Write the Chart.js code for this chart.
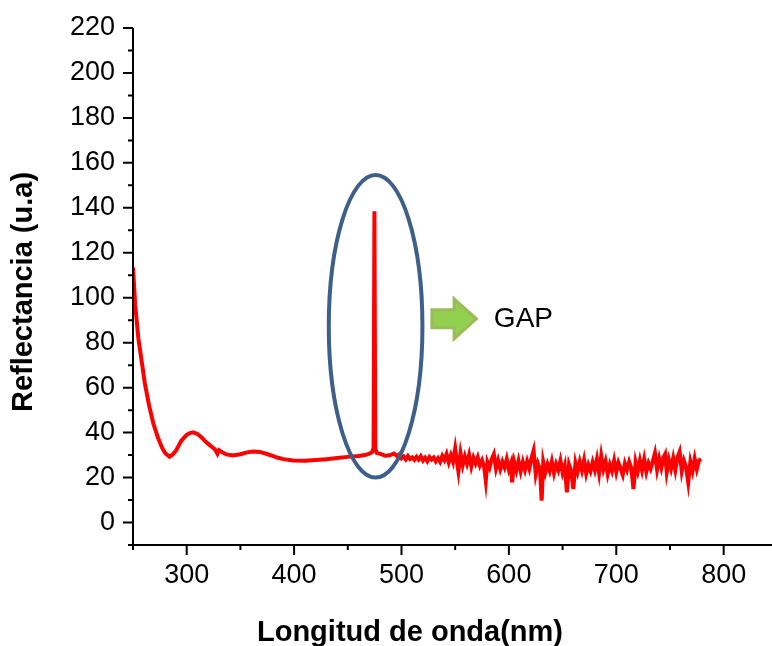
<!DOCTYPE html>
<html>
<head>
<meta charset="utf-8">
<script src="https://cdn.jsdelivr.net/npm/chart.js@4.4.1/dist/chart.umd.min.js"></script>
<style>
  body { margin: 0; background: #fff; }
  #wrap { width: 772px; height: 646px; }
</style>
</head>
<body>
<div id="wrap"><canvas id="chart_reflect"></canvas></div>
<script>
// longitud de onda (nm) y reflectancia (u.a)
const wavelength = [
  250, 252, 255, 258, 261, 265, 269, 273, 277, 280, 284, 287, 290, 295, 300, 303, 306, 310,
  314, 318, 322, 326, 328.6, 330, 333, 337, 343, 350, 356, 362, 368, 374, 380, 385, 390, 399,
  410, 420, 430, 440, 450, 460, 466, 470, 472.5, 474, 474.8, 475.6, 477, 481, 485, 489, 493,
  496, 498, 500, 502, 504, 506, 508, 510, 512, 514, 516, 518, 520, 522, 524, 526, 528, 530,
  532, 534, 536, 538, 540, 542, 544, 546, 548, 550, 552, 553, 555, 557, 559, 561, 563, 565,
  567, 569, 571, 573, 575, 577, 578.5, 580, 582, 584, 586, 588, 590, 592, 594, 596, 598, 600,
  602, 603, 605, 607, 609, 611, 613, 615, 617, 619, 621, 623, 625, 627, 629, 630.5, 632, 634,
  636, 638, 640, 642, 644, 646, 648, 650, 652, 654, 656, 658, 660, 662, 664, 666, 668, 670,
  672, 674, 676, 678, 680, 682, 684, 686, 688, 690, 692, 694, 696, 698, 700, 702, 704, 706,
  708, 710, 712, 714, 716, 718, 720, 722, 724, 726, 728, 730, 732, 734, 736, 738, 740, 742,
  744, 745.5, 747, 749, 751, 753, 755, 757, 759, 761, 763, 765, 767, 769, 771, 773, 775, 777, 779
];
const reflectance = [
  113.5, 97, 82, 72, 62, 52, 44, 38, 33.3, 30.8, 29.3, 30.3, 32, 36.4, 39, 39.8, 40.1, 39.4,
  37.8, 35.8, 34.2, 32.7, 30.6, 32.2, 31.3, 30.3, 29.8, 30.4, 31.2, 31.6, 31.4, 30.6, 29.6, 28.8, 28.2, 27.6,
  27.5, 27.8, 28.2, 28.7, 29.2, 29.6, 30, 30.6, 31.2, 33, 138.5, 33, 31, 30.4, 29.7, 29.9, 30.7,
  29.5, 30.3, 28.6, 29.4, 28.1, 29.6, 28.3, 29.0, 27.9, 29.2, 28.0, 29.5, 27.6, 28.8, 27.3, 29.1, 28.0, 28.9,
  27.2, 28.6, 27.0, 29.6, 27.8, 30.4, 26.8, 29.9, 27.0, 33.0, 26.0, 22.7, 30.8, 25.6, 29.4, 26.2, 30.1, 25.0,
  28.8, 26.3, 29.0, 25.4, 27.6, 24.6, 18.6, 26.9, 24.5, 28.2, 30.4, 24.0, 27.6, 23.8, 27.0, 24.5, 28.2, 23.6,
  26.4, 17.9, 26.8, 23.2, 27.4, 22.8, 26.9, 23.4, 27.2, 24.0, 28.6, 32.0, 21.6, 26.2, 23.5, 9.7, 26.8, 22.3,
  25.9, 23.0, 27.2, 22.0, 26.0, 23.4, 27.5, 22.2, 25.4, 13.4, 25.8, 23.0, 14.9, 26.4, 22.6, 27.0, 23.2, 27.8,
  21.8, 25.6, 22.9, 26.8, 23.4, 28.2, 22.0, 29.6, 23.8, 27.2, 21.6, 25.8, 23.0, 27.6, 22.4, 26.6, 24.0, 21.2,
  26.2, 23.4, 27.0, 24.2, 14.9, 26.8, 22.8, 27.6, 23.2, 28.2, 22.6, 26.4, 24.0, 27.2, 30.8, 23.6, 28.4, 24.4,
  29.0, 30.4, 22.4, 27.8, 24.0, 28.6, 23.4, 29.0, 31.5, 22.8, 27.4, 24.6, 17.9, 27.0, 23.0, 28.4, 23.8, 27.6, 28.2
];

// marcas de los ejes
const xMajor = [300, 400, 500, 600, 700, 800];
const xMinor = [250, 350, 450, 550, 650, 750];
const yMajor = [0, 20, 40, 60, 80, 100, 120, 140, 160, 180, 200, 220];
const yMinor = [-10, 10, 30, 50, 70, 90, 110, 130, 150, 170, 190, 210];

const puntos = wavelength.map((w, i) => ({ x: w, y: reflectance[i] }));

const fuente = "'Liberation Sans', Arial, sans-serif";

// ejes con marcas largas y cortas + elipse, flecha y texto GAP
const extras = {
  id: 'extras',
  afterDraw(chart) {
    const ctx = chart.ctx;
    const a = chart.chartArea;
    const sx = chart.scales.x;
    const sy = chart.scales.y;
    ctx.save();
    ctx.strokeStyle = '#000';
    ctx.lineWidth = 2;
    ctx.beginPath();
    ctx.moveTo(a.left, a.top);
    ctx.lineTo(a.left, a.bottom);
    ctx.lineTo(a.right, a.bottom);
    ctx.stroke();

    ctx.beginPath();
    xMajor.forEach(v => { const p = sx.getPixelForValue(v); ctx.moveTo(p, a.bottom); ctx.lineTo(p, a.bottom + 10); });
    xMinor.forEach(v => { const p = sx.getPixelForValue(v); ctx.moveTo(p, a.bottom); ctx.lineTo(p, a.bottom + 5); });
    yMajor.forEach(v => { const p = sy.getPixelForValue(v); ctx.moveTo(a.left, p); ctx.lineTo(a.left - 10, p); });
    yMinor.forEach(v => { const p = sy.getPixelForValue(v); ctx.moveTo(a.left, p); ctx.lineTo(a.left - 5, p); });
    ctx.stroke();

    // elipse alrededor del pico
    const cx = sx.getPixelForValue(475.9);
    const cy = sy.getPixelForValue(87.3);
    const rx = sx.getPixelForValue(475.9 + 43.6) - cx;
    const ry = cy - sy.getPixelForValue(87.3 + 67.3);
    ctx.strokeStyle = '#3d5f8a';
    ctx.lineWidth = 4;
    ctx.beginPath();
    ctx.ellipse(cx, cy, rx, ry, 0, 0, Math.PI * 2);
    ctx.stroke();

    // flecha verde
    const x0 = sx.getPixelForValue(528.3);
    const xh = sx.getPixelForValue(549);
    const xt = sx.getPixelForValue(569.7);
    const ym = sy.getPixelForValue(90.6);
    ctx.fillStyle = '#92d050';
    ctx.strokeStyle = '#9bbb59';
    ctx.lineWidth = 3;
    ctx.beginPath();
    ctx.moveTo(x0, ym - 9);
    ctx.lineTo(xh, ym - 9);
    ctx.lineTo(xh, ym - 20);
    ctx.lineTo(xt, ym);
    ctx.lineTo(xh, ym + 20);
    ctx.lineTo(xh, ym + 9);
    ctx.lineTo(x0, ym + 9);
    ctx.closePath();
    ctx.fill();
    ctx.stroke();

    ctx.fillStyle = '#000';
    ctx.font = '28px ' + fuente;
    ctx.textAlign = 'left';
    ctx.textBaseline = 'middle';
    ctx.fillText('GAP', sx.getPixelForValue(586), ym);

    // titulos de los ejes
    ctx.font = 'bold 29px ' + fuente;
    ctx.textAlign = 'center';
    ctx.textBaseline = 'alphabetic';
    ctx.fillText('Longitud de onda(nm)', 410, 641);
    ctx.translate(32, 292);
    ctx.rotate(-Math.PI / 2);
    ctx.fillText('Reflectancia (u.a)', 0, 0);
    ctx.restore();
  }
};

new Chart(document.getElementById('chart_reflect'), {
  type: 'line',
  data: {
    datasets: [{
      label: 'Reflectancia',
      data: puntos,
      borderColor: '#ff0000',
      backgroundColor: '#ff0000',
      borderWidth: 4,
      pointRadius: 0,
      tension: 0
    }]
  },
  options: {
    responsive: true,
    maintainAspectRatio: false,
    animation: false,
    layout: { padding: { top: 28, right: 0, left: 0, bottom: 0 } },
    plugins: {
      legend: { display: false },
      tooltip: { enabled: false }
    },
    scales: {
      x: {
        type: 'linear',
        min: 250,
        max: 845,
        afterBuildTicks: s => { s.ticks = xMajor.map(v => ({ value: v })); },
        afterFit: s => { s.height = 101; },
        grid: { display: true, drawOnChartArea: false, color: 'transparent', tickLength: 10 },
        border: { display: false },
        ticks: { color: '#000', padding: 4, maxRotation: 0, font: { family: fuente, size: 27 } }
      },
      y: {
        min: -10,
        max: 220,
        afterBuildTicks: s => { s.ticks = yMajor.map(v => ({ value: v })); },
        afterFit: s => { s.width = 133; },
        grid: { display: true, drawOnChartArea: false, color: 'transparent', tickLength: 10 },
        border: { display: false },
        ticks: { color: '#000', padding: 8, font: { family: fuente, size: 27 } }
      }
    }
  },
  plugins: [extras]
});
</script>
</body>
</html>
